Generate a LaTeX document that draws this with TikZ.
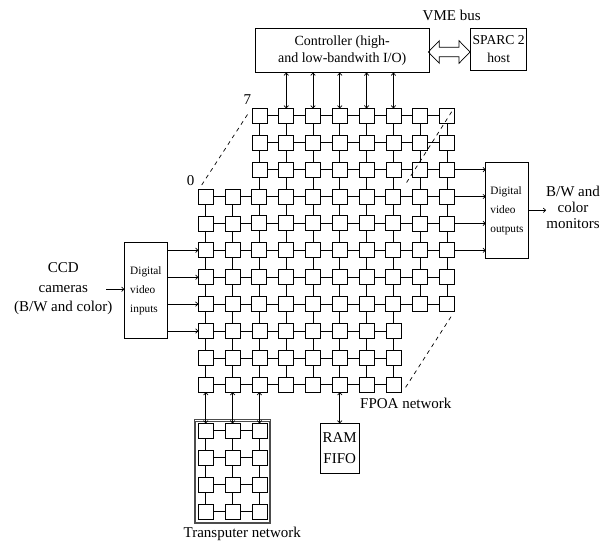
\documentclass[tikz,border=0pt]{standalone}
\usepackage{fontspec}
\setmainfont{Liberation Serif}
\usetikzlibrary{arrows.meta}
\newcommand\cellexists[3]{\pgfmathtruncatemacro#1{(((#2>=4)&&(#3<=8))||((#2<=8)&&(#3>=3)))?1:0}}
\newcommand\cellovl[3]{\pgfmathtruncatemacro#1{((#2>=4)&&(#2<=8)&&(#3>=3)&&(#3<=8))?1:0}}
\begin{document}
\begin{tikzpicture}[x=1pt,y=-1pt,
  cell/.style={draw, minimum size=15pt, inner sep=0pt, outer sep=0pt, line width=0.7pt},
  ovl/.style={line width=0.95pt},
  link/.style={line width=0.7pt},
  box/.style={draw, line width=0.7pt, inner sep=0pt, outer sep=0pt},
  arr/.style={line width=0.7pt, -{To[length=3pt,width=5pt]}},
  darr/.style={line width=0.7pt, {To[length=3pt,width=5pt]}-{To[length=3pt,width=5pt]}},
  dsh/.style={line width=0.7pt, dash pattern=on 4pt off 4pt},
  frame/.style={draw=black!70, line width=0.5pt},
  big/.style={font=\fontsize{15}{18}\selectfont},
  small/.style={font=\fontsize{11.3}{19}\selectfont},
]
\useasboundingbox[fill=white] (0,0) rectangle (611,543);

% FPOA grid (union of front and back layers)
\foreach \r in {1,...,11}{
  \foreach \c in {1,...,10}{
    \cellexists{\ex}{\r}{\c}
    \cellovl{\ov}{\r}{\c}
    \ifnum\ex=1
      \ifnum\ov=1
        \node[cell,ovl] (m-\r-\c) at ({205.8+(\c-1)*26.8},{115.8+(\r-1)*26.9}) {};
      \else
        \node[cell] (m-\r-\c) at ({205.8+(\c-1)*26.8},{115.8+(\r-1)*26.9}) {};
      \fi
    \fi
  }
}
% horizontal links
\foreach \r in {1,...,11}{
  \foreach \c in {1,...,9}{
    \pgfmathtruncatemacro\cn{\c+1}
    \cellexists{\ea}{\r}{\c}
    \cellexists{\eb}{\r}{\cn}
    \cellovl{\oa}{\r}{\c}
    \cellovl{\ob}{\r}{\cn}
    \pgfmathtruncatemacro\both{\ea*\eb}
    \pgfmathtruncatemacro\bothov{\oa*\ob}
    \ifnum\both=1
      \ifnum\bothov=1
        \draw[link,ovl] (m-\r-\c) -- (m-\r-\cn);
      \else
        \draw[link] (m-\r-\c) -- (m-\r-\cn);
      \fi
    \fi
  }
}
% vertical links
\foreach \r in {1,...,10}{
  \foreach \c in {1,...,10}{
    \pgfmathtruncatemacro\rn{\r+1}
    \cellexists{\ea}{\r}{\c}
    \cellexists{\eb}{\rn}{\c}
    \cellovl{\oa}{\r}{\c}
    \cellovl{\ob}{\rn}{\c}
    \pgfmathtruncatemacro\both{\ea*\eb}
    \pgfmathtruncatemacro\bothov{\oa*\ob}
    \ifnum\both=1
      \ifnum\bothov=1
        \draw[link,ovl] (m-\r-\c) -- (m-\rn-\c);
      \else
        \draw[link] (m-\r-\c) -- (m-\rn-\c);
      \fi
    \fi
  }
}

% layer labels and dashed perspective lines
\node[big, inner sep=0pt] (l0) at (190.7,180.7) {0};
\node[big, inner sep=0pt] (l7) at (247.3,100) {7};
\coordinate (d0a) at (201.7,185);
\coordinate (d0b) at (248.3,113.3);
\coordinate (d1a) at (451.7,111.7);
\coordinate (d1b) at (405,185);
\coordinate (d2a) at (451,316.7);
\coordinate (d2b) at (405,388.3);
\draw[dsh] (d0a) -- (d0b);
\draw[dsh] (d1a) -- (d1b);
\draw[dsh] (d2a) -- (d2b);

% controller and host
\node[box, align=center, minimum width=174.3pt, minimum height=44.4pt,
      font=\fontsize{14}{16.7}\selectfont] (ctrl) at (342.2,50.5)
      {Controller (high-\\and low-bandwith I/O)};
\node[box, align=center, minimum width=56pt, minimum height=41.7pt,
      font=\fontsize{13.6}{17.5}\selectfont] (sparc) at (498.7,49.2)
      {SPARC 2\\host};
\node[big, inner sep=0pt] (vme) at (451.7,15) {VME bus};
\draw[line width=0.7pt, line join=miter]
  (428.3,52) -- (439.3,40.7) -- (439.3,47.3) -- (459,47.3) -- (459,40.7)
  -- (470,52) -- (459,63.3) -- (459,56.7) -- (439.3,56.7) -- (439.3,63.3) -- cycle;
\foreach \c in {4,...,8}{
  \draw[darr] (m-1-\c.north) -- (m-1-\c.north |- ctrl.south);
}

% video outputs
\node[box, small, align=left, minimum width=42.6pt, minimum height=96pt] (outb)
  at (507,210.3) {Digital\\video\\outputs};
\foreach \r in {3,...,6}{
  \draw[arr] (m-\r-10.east) -- (m-\r-10.east -| outb.west);
}
\coordinate (mon) at (546,210.3);
\draw[arr] (outb.east) -- (mon);
\node[big, align=center, inner sep=0pt, font=\fontsize{15}{15.7}\selectfont]
  (monl) at (573,207.5) {B/W and\\color\\monitors};

% video inputs
\node[box, small, align=left, minimum width=43.2pt, minimum height=95.8pt] (inb)
  at (145.9,290.6) {Digital\\video\\inputs};
\foreach \r in {6,...,9}{
  \draw[arr] (m-\r-1.west -| inb.east) -- (m-\r-1.west);
}
\node[big, align=center, inner sep=0pt, font=\fontsize{15}{19.5}\selectfont]
  (ccd) at (63.3,289) {CCD\\cameras\\(B/W and color)};
\coordinate (ccda) at (106,289.3);
\draw[arr] (ccda) -- (ccda -| inb.west);

% transputer network
\node[frame, minimum width=76.7pt,
      minimum height=104pt, inner sep=0pt] (tnet) at (232.35,471.3) {};
\draw[frame] ([shift={(1.7,1.7)}]tnet.north west)
  rectangle ([shift={(-1.7,-1.7)}]tnet.south east);
\foreach \i in {1,...,4}{
  \foreach \j in {1,...,3}{
    \node[cell] (t-\i-\j) at ({205.8+(\j-1)*26.8},{430.8+(\i-1)*26.9}) {};
  }
}
\foreach \i in {1,...,4}{
  \foreach \j [count=\jn from 2] in {1,2}{
    \draw[link] (t-\i-\j) -- (t-\i-\jn);
  }
}
\foreach \i [count=\in from 2] in {1,2,3}{
  \foreach \j in {1,...,3}{
    \draw[link] (t-\i-\j) -- (t-\in-\j);
  }
}
\foreach \c in {1,2,3}{
  \draw[darr] (m-11-\c.south) -- (t-1-\c.north);
}
\node[big, inner sep=0pt] (tlab) at (242.3,534) {Transputer network};

% RAM FIFO
\node[box, align=center, minimum width=39.3pt, minimum height=50pt,
      font=\fontsize{15}{20.6}\selectfont] (ram) at (339.7,448.3) {RAM\\FIFO};
\draw[darr] (m-11-6.south) -- (m-11-6.south |- ram.north);
\node[big, inner sep=0pt] (fpoa) at (405.8,403.3) {FPOA network};
\end{tikzpicture}
\end{document}
